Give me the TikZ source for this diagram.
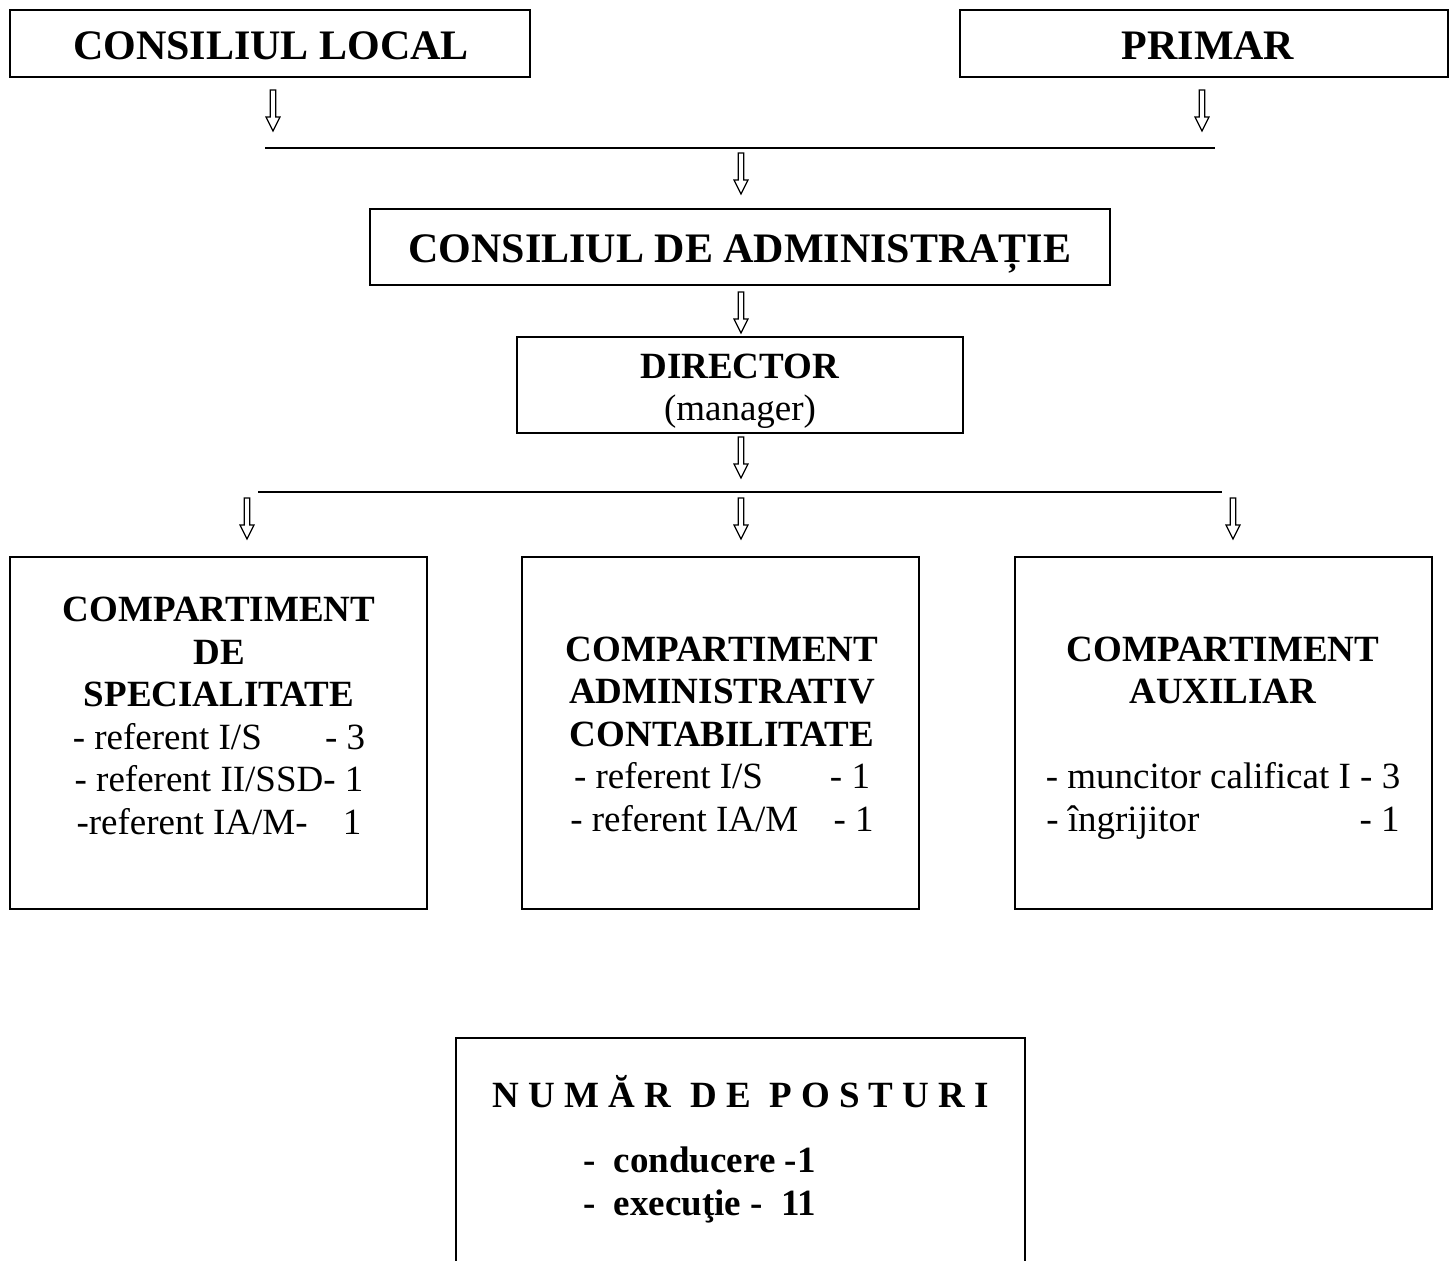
\documentclass[tikz,border=0pt]{standalone}
\usepackage{fontspec}
\setmainfont{Liberation Serif}
\newcommand\bigfont{\fontsize{21}{25}\selectfont}
\newcommand\midfont{\fontsize{18.5}{21.25}\selectfont}
\begin{document}
\begin{tikzpicture}[x=0.5pt,y=-0.5pt,
  box/.style={draw,line width=0.7pt,inner sep=0pt,outer sep=0pt},
  lbl/.style={inner sep=0pt,outer sep=0pt,align=center,font=\midfont},
  hline/.style={line width=0.7pt},
  hollowarrow/.pic={\draw[line width=0.6pt,line join=miter] (-2.7,0) -- (-2.7,27) -- (-7,27) -- (0,41) -- (7,27) -- (2.7,27) -- (2.7,0) -- cycle;}]
\useasboundingbox (0,0) rectangle (1450,1261);
\clip (0,0) rectangle (1450,1261);
\fill[white] (0,0) rectangle (1450,1261);

% top boxes
\node[box,minimum width=260pt,minimum height=33.5pt] (cl) at (270,43.5) {};
\node[lbl,font=\bigfont\bfseries] (clt) at (271,46) {CONSILIUL LOCAL};
\node[box,minimum width=244pt,minimum height=33.5pt] (pr) at (1204,43.5) {};
\node[lbl,font=\bigfont\bfseries] (prt) at (1208,46) {PRIMAR};

\coordinate (a1) at (273,90);
\coordinate (a2) at (1202,90);
\pic at (a1) {hollowarrow};
\pic at (a2) {hollowarrow};

\coordinate (h1l) at (265,148);
\coordinate (h1r) at (1215,148);
\draw[hline] (h1l) -- (h1r);

\coordinate (a3) at (741,153);
\pic at (a3) {hollowarrow};

\node[box,minimum width=370pt,minimum height=38pt] (ca) at (740,247) {};
\node[lbl,font=\bigfont\bfseries] (cat) at (740,254) {CONSILIUL DE ADMINISTRAȚIE};

\coordinate (a4) at (741,292);
\pic at (a4) {hollowarrow};

\node[box,minimum width=223pt,minimum height=48pt] (dir) at (740,385) {};
\node[lbl] (dirt) at (740,391) {\textbf{DIRECTOR}\\(manager)};

\coordinate (a5) at (741,437);
\pic at (a5) {hollowarrow};

\coordinate (h2l) at (258,492);
\coordinate (h2r) at (1222,492);
\draw[hline] (h2l) -- (h2r);

\coordinate (a6) at (247,498);
\coordinate (a7) at (741,498);
\coordinate (a8) at (1233,498);
\pic at (a6) {hollowarrow};
\pic at (a7) {hollowarrow};
\pic at (a8) {hollowarrow};

% compartment boxes
\node[box,minimum width=208.5pt,minimum height=176pt] (c1) at (218.5,733) {};
\node[box,minimum width=198.5pt,minimum height=176pt] (c2) at (720.5,733) {};
\node[box,minimum width=208.5pt,minimum height=176pt] (c3) at (1223.5,733) {};

\node[lbl] (t1) at (219,716) {\textbf{COMPARTIMENT}\\\textbf{DE}\\\textbf{SPECIALITATE}\\
  \makebox[7.9em]{- referent I/S\hfill- 3}\\
  - referent II/SSD- 1\\
  \makebox[7.7em]{-referent IA/M-\hfill 1}};
\node[lbl] (t2) at (722,734) {\textbf{COMPARTIMENT}\\\textbf{ADMINISTRATIV}\\\textbf{CONTABILITATE}\\
  \makebox[8.0em]{- referent I/S\hfill- 1}\\
  \makebox[8.2em]{- referent IA/M\hfill- 1}};
\node[lbl] (t3) at (1223,738) {\textbf{COMPARTIMENT}\\\textbf{AUXILIAR}\\[21.25pt]
  \makebox[9.55em]{- muncitor calificat I - 3}\\
  \makebox[9.55em]{- îngrijitor\hfill- 1}};

% bottom box
\node[box,minimum width=284.5pt,minimum height=131pt] (np) at (740.5,1169) {};
\node[lbl,font=\midfont\bfseries] (npt) at (741,1092) {N U M Ă R\ \ D E\ \ P O S T U R I};
\node[lbl,font=\midfont\bfseries,align=left,anchor=west] (npi) at (583,1185) {-\ \ conducere -1\\-\ \ execuţie -\ \ 11};
\end{tikzpicture}
\end{document}
